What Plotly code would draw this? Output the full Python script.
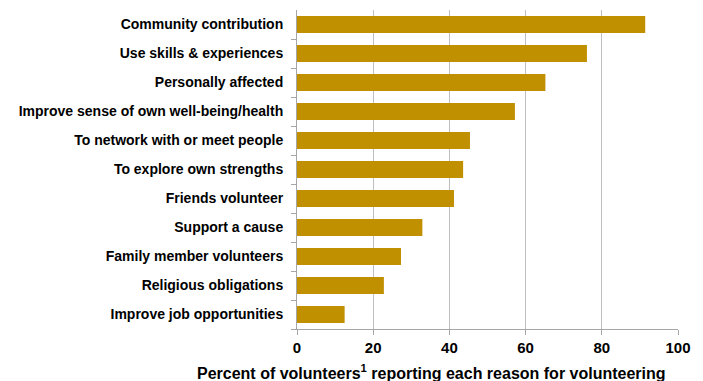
import plotly.graph_objects as go

# Reasons for volunteering (share of volunteers, %)
reasons = [
    "Community contribution",
    "Use skills & experiences",
    "Personally affected",
    "Improve sense of own well-being/health",
    "To network with or meet people",
    "To explore own strengths",
    "Friends volunteer",
    "Support a cause",
    "Family member volunteers",
    "Religious obligations",
    "Improve job opportunities",
]
percent = [91.4, 76.1, 65.2, 57.2, 45.4, 43.6, 41.2, 32.9, 27.3, 22.8, 12.5]
x_ticks = [0, 20, 40, 60, 80, 100]

BAR = "#C09000"
AXIS = "#A6A6A6"
FONT = "Liberation Sans, Arial, sans-serif"

fig = go.Figure(
    go.Bar(
        x=percent,
        y=reasons,
        orientation="h",
        marker=dict(color=BAR, line=dict(width=0)),
        width=0.58,
        hoverinfo="x+y",
    )
)

fig.update_layout(
    width=703,
    height=381,
    margin=dict(l=297, r=25, t=10, b=52),
    paper_bgcolor="white",
    plot_bgcolor="white",
    showlegend=False,
    font=dict(family=FONT, color="black"),
    xaxis=dict(
        range=[0, 100],
        tickvals=x_ticks,
        ticktext=[f"<b>{v}</b>" for v in x_ticks],
        tickfont=dict(size=15, family=FONT),
        showgrid=True,
        gridcolor="#BFBFBF",
        gridwidth=1,
        zeroline=False,
        showline=True,
        linecolor=AXIS,
        linewidth=1,
        ticks="outside",
        ticklen=5,
        tickcolor=AXIS,
        fixedrange=True,
    ),
    yaxis=dict(
        categoryorder="array",
        categoryarray=reasons[::-1],
        tickvals=reasons,
        ticktext=[f"<b>{r}</b>" for r in reasons],
        tickfont=dict(size=14, family=FONT),
        showline=True,
        linecolor=AXIS,
        linewidth=1,
        ticks="outside",
        tickson="boundaries",
        ticklen=5,
        tickcolor=AXIS,
        showgrid=False,
        ticklabelstandoff=10,
        fixedrange=True,
    ),
    annotations=[
        dict(
            text="<b>Percent of volunteers<sup>1</sup> reporting each reason for volunteering</b>",
            xref="paper",
            yref="paper",
            x=0.352,
            y=-0.135,
            xanchor="center",
            yanchor="middle",
            showarrow=False,
            font=dict(size=16, family=FONT),
        )
    ],
)

fig.write_html("out.html")
